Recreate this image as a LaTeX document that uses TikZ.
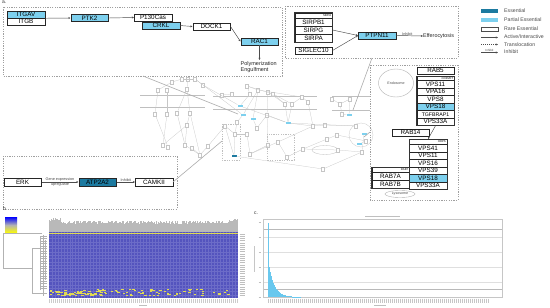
\documentclass[tikz,border=0pt]{standalone}
\usepackage{fontspec}
\setmainfont{Liberation Sans}
\usetikzlibrary{arrows.meta,shapes.geometric}
\definecolor{partialc}{RGB}{125,208,238}
\definecolor{essc}{RGB}{28,122,160}
\definecolor{hmblue}{RGB}{84,84,190}
\definecolor{hmgridc}{RGB}{108,108,200}
\definecolor{hmyel}{RGB}{225,220,80}
\definecolor{barc}{RGB}{105,200,238}
\newcommand\myfs[1]{\fontsize{#1}{#1}\selectfont}
\begin{document}
\begin{tikzpicture}[x=1pt,y=-1pt,
 gene/.style={draw=black!85, line width=0.5pt, minimum width=37.5pt, minimum height=7pt, inner sep=0pt, font=\myfs{6.3}, fill=white},
 gm/.style={gene, minimum height=7.5pt},
 partial/.style={fill=partialc},
 essen/.style={fill=essc},
 hdr/.style={draw=black!85, line width=0.4pt, minimum height=5pt, inner sep=1pt, text width=35.5pt, align=right, font=\myfs{2.8}, fill=white},
 grp/.style={draw=black!80, line width=0.8pt},
 zone/.style={draw=gray!75, line width=0.45pt, dash pattern=on 1.2pt off 1.2pt},
 conn/.style={draw=black!70, line width=0.45pt, -{Stealth[length=2.2pt,width=2pt]}},
 xlink/.style={draw=gray!65, line width=0.6pt},
 txt/.style={font=\myfs{5.5}, inner sep=0pt, text=black!85},
 tinyt/.style={font=\myfs{3.8}, inner sep=0.4pt, text=black!70},
 legt/.style={font=\myfs{5.2}, inner sep=0pt, text=black!70, anchor=west},
 lbl/.style={font=\myfs{5}, inner sep=0pt, text=black!80},
 mini/.style={draw=gray!45, fill=white, line width=0.25pt, minimum width=3pt, minimum height=4.5pt, inner sep=0pt},
 bmini/.style={fill=partialc, minimum width=5pt, minimum height=2.5pt, inner sep=0pt},
 mline/.style={draw=gray!45, line width=0.25pt},
 dend/.style={draw=gray!60, line width=0.35pt}]
\fill[white] (0,0) rectangle (550,308);
\useasboundingbox (0,0) rectangle (550,308);

%%%%%%%%%%%%%%%% middle network (faint) %%%%%%%%%%%%%%%%
\draw[gray!50, line width=0.4pt] (140,95) -- (205,95) (140,107) -- (205,107);
\draw[gray!50, line width=0.4pt] (213,96) -- (317,96) (213,109) -- (317,109);
\draw[gray!50, line width=0.4pt] (332,96) -- (370,96) (332,110) -- (370,110);
\draw[zone, draw=gray!50] (222,124) rectangle (240,160);
\draw[zone, draw=gray!50] (267,134) rectangle (294,160);
\draw[gray!50, line width=0.3pt] (325,150) ellipse [x radius=13pt, y radius=4.5pt];
\draw[gray!40, line width=0.3pt] (361,135) circle [radius=12pt];
\foreach \nn/\px/\py in {n1/182/79, n2/188/79, n3/195/79, n4/172/82, n5/203/85, n6/158/90, n7/167/90, n8/187/89, n9/155/114, n10/167/114, n11/177/113, n12/190/113, n13/187/125, n14/163/145, n15/168/147, n16/185/145, n17/200/155, n18/192/148, n19/208/146,
 m1/222/95, m2/232/94, m3/247/86, m4/250/94, m5/258/90, m6/268/92, m7/273/94, m8/285/104, m9/292/104, m10/302/97, m11/308/102, m12/225/126, m13/237/122, m14/235/134, m15/247/134, m16/257/128, m17/267/115, m18/278/142, m19/268/145, m20/250/154, m21/287/157, m22/303/149, m23/313/126, m24/325/125, m25/327/139, m26/337/135, m27/338/150, m28/323/169,
 r1/340/104, r2/342/114, r3/356/126, r4/366/141, r5/362/152, r6/350/99, r7/332/99}
 \node[mini] (\nn) at (\px,\py) {};
\foreach \nn/\px/\py in {b1/240/106, b2/243/115, b3/253/119, b4/288/123, b5/349/115, b6/364/134, b7/359/144}
 \node[bmini] (\nn) at (\px,\py) {};
\node[bmini, fill=essc] (b8) at (234,156) {};
\foreach \a/\b in {n4/n1, n1/n3, n2/n8, n3/n5, n4/n6, n6/n9, n7/n10, n8/n11, n8/n12, n5/b1, n3/b2, n11/n16, n12/n13, n13/n14, n13/n16, n10/n14, n12/n17, n16/n17, n17/n19, n9/n15, n18/n17, n19/m12,
 m1/m2, m3/m4, m3/m5, m3/m7, m4/b1, m5/b2, m5/b3, m6/m8, m7/m8, m7/m9, m10/m11, m10/m9, m5/m10, m6/m17, b2/m13, m13/m14, m12/m14, m14/m15, b3/m16, m16/m17, b4/m17, b4/m23, m23/m24, m24/r3, m17/m19, m19/m20, m20/m18, m18/m21, m21/m22, m22/m25, m25/m26, m26/r4, m27/r5, m22/m27, b8/m28, m28/r5, b4/r3, m8/b4, b1/b4, m15/m20, m18/m23, m11/m23, r7/r1, r6/r1, r1/r2, r2/b5, r6/b5, b6/r5, m9/b4, m12/b8, m14/b8, b7/r4}
 \draw[mline] (\a) -- (\b);

%%%%%%%%%%%%%%%% panel a: top-left %%%%%%%%%%%%%%%%
\node[lbl, anchor=north west] (la) at (2,0.5) {a.};
\draw[zone] (3,7) rectangle (282,76);
\node[gene,partial] (itgav) at (26,14.5) {ITGAV};
\node[gene] (itgb) at (26,21.5) {ITGB};
\node[gene,partial] (ptk2) at (89.5,18) {PTK2};
\node[gene] (p130) at (153,17.5) {P130Cas};
\node[gene,partial] (crkl) at (161,25.5) {CRKL};
\node[gene] (dock1) at (211.5,26.5) {DOCK1};
\node[gene,partial] (rac1) at (259.5,41.5) {RAC1};
\node[txt, anchor=north west, align=left, font=\myfs{5.5}] (poly) at (240.5,61.5) {Polymerization\\[0.6pt]Engulfment};
\coordinate (polyc) at (259.5,60);
\draw[conn] (itgav.south east) -- (ptk2.west);
\draw[conn] (ptk2.east) -- (p130.west);
\draw[conn] (crkl.east) -- (dock1.west);
\draw[conn] (dock1.east) -- (rac1.west);
\draw[conn] (rac1.south) -- (polyc);

%%%%%%%%%%%%%%%% panel a: SIRP %%%%%%%%%%%%%%%%
\draw[zone] (285,6) rectangle (458,58);
\node[hdr] (sirphdr) at (313.5,15.5) {SIRPA};
\node[gene, minimum height=8pt] (sirpb1) at (313.5,22) {SIRPB1};
\node[gene, minimum height=8pt] (sirpg) at (313.5,30) {SIRPG};
\node[gene, minimum height=8pt] (sirpa) at (313.5,38) {SIRPA};
\draw[grp] (sirphdr.north west) rectangle (sirpa.south east);
\node[gene] (siglec) at (313.5,50.5) {SIGLEC10};
\node[gene,partial] (ptpn11) at (377,35.5) {PTPN11};
\node[txt, anchor=west, font=\myfs{5.4}] (effero) at (423,36) {Efferocytosis};
\draw[conn] (sirpg.east) -- (ptpn11.west);
\draw[conn] (siglec.east) -- (ptpn11.west);
\draw[conn] (ptpn11.east) -- node[above, tinyt, pos=0.42]{Inhibit} (effero.west);

%%%%%%%%%%%%%%%% legend %%%%%%%%%%%%%%%%
\node[fill=essc, minimum width=17pt, minimum height=4pt, inner sep=0pt] (lgess) at (489.5,11) {};
\node[fill=partialc, minimum width=17pt, minimum height=4pt, inner sep=0pt] (lgpar) at (489.5,20) {};
\node[draw=black!70, line width=0.4pt, fill=white, minimum width=17pt, minimum height=4pt, inner sep=0pt] (lgrare) at (489.5,29) {};
\node[legt] (lgesst) at (504,11) {Essential};
\node[legt] (lgpart) at (504,20) {Partial Essential};
\node[legt] (lgraret) at (504,29) {Rare Essential};
\node[legt] (lgactt) at (504,37) {Active/Interactive};
\node[legt] (lgtrat) at (504,44.5) {Translocation};
\node[legt] (lginht) at (504,52) {Inhibit};
\coordinate (la1) at (481,37.5); \coordinate (la2) at (498,37.5);
\coordinate (lt1) at (481,44.5); \coordinate (lt2) at (498,44.5);
\coordinate (li1) at (481,52.5); \coordinate (li2) at (498,52.5);
\draw[conn] (la1) -- (la2);
\draw[conn, dash pattern=on 1pt off 1pt] (lt1) -- (lt2);
\draw[conn] (li1) -- node[above, tinyt, font=\myfs{3}]{Inhibit} (li2);

%%%%%%%%%%%%%%%% panel a: endosome / lysosome %%%%%%%%%%%%%%%%
\draw[zone] (370,65) rectangle (458,200);
\node[draw=gray!60, line width=0.4pt, ellipse, minimum width=35pt, minimum height=28pt, inner sep=0pt, font=\myfs{3.6}, text=black!70] (endo) at (396,83) {Endosome};
\node[draw=gray!60, line width=0.4pt, ellipse, minimum width=30pt, minimum height=7pt, inner sep=0pt, font=\myfs{3.6}, text=black!70] (lyso) at (400,194) {Lysosome};
\node[gene] (rab5) at (435.5,70.5) {RAB5};
\node[hdr] (corhdr) at (435.5,79) {CORVET};
\node[gm] (cvps11) at (435.5,84.25) {VPS11};
\node[gm] (cvpa16) at (435.5,91.75) {VPA16};
\node[gm] (cvps8) at (435.5,99.25) {VPS8};
\node[gm,partial] (cvps18) at (435.5,106.75) {VPS18};
\node[gm, font=\myfs{5.2}] (ctgf) at (435.5,114.25) {TGFBRAP1};
\node[gm] (cvps33a) at (435.5,121.75) {VPS33A};
\draw[grp] (corhdr.north west) rectangle (cvps33a.south east);
\node[gene] (rab14) at (410.5,132.5) {RAB14};
\node[hdr] (hopshdr) at (428,141.75) {HOPS};
\node[gm] (hvps41) at (428,148) {VPS41};
\node[gm] (hvps11) at (428,155.5) {VPS11};
\node[gm] (hvps16) at (428,163) {VPS16};
\node[gm] (hvps39) at (428,170.5) {VPS39};
\node[gm,partial] (hvps18) at (428,178) {VPS18};
\node[gm] (hvps33a) at (428,185.5) {VPS33A};
\draw[grp] (hopshdr.north west) rectangle (hvps33a.south east);
\draw[conn] (cvps33a.south) -- (hopshdr.north);
\node[hdr] (rab7hdr) at (390.5,170) {RAB7};
\node[gene, minimum height=8pt] (rab7a) at (390.5,176.5) {RAB7A};
\node[gene, minimum height=8pt] (rab7b) at (390.5,184.5) {RAB7B};
\draw[grp] (rab7hdr.north west) rectangle (rab7b.south east);

%%%%%%%%%%%%%%%% panel a: bottom-left %%%%%%%%%%%%%%%%
\draw[zone] (3,156) rectangle (177,209);
\node[gene, minimum height=8pt] (erk) at (22.5,182) {ERK};
\node[gene, essen, minimum height=8pt] (atp) at (97.5,182) {ATP2A2};
\node[gene, minimum height=8pt] (camk) at (154,182) {CAMKII};
\draw[conn] (erk) -- node[above, tinyt]{Gene expression} node[below, tinyt]{upregulate} (atp);
\draw[conn] (atp) -- node[above, tinyt]{Inhibit} (camk);

%%%%%%%%%%%%%%%% links into the network %%%%%%%%%%%%%%%%
\coordinate (ca1) at (143,76); \coordinate (ca2) at (238,114);
\coordinate (cs1) at (372,58); \coordinate (cs2) at (353,110);
\coordinate (cb2) at (222,141);
\coordinate (cr1) at (370,132); \coordinate (cr2) at (364,137);
\draw[xlink] (ca1) -- (ca2);
\draw[xlink] (cs1) -- (cs2);
\draw[xlink] (camk.east) -- (cb2);
\draw[xlink] (cr1) -- (cr2);

%%%%%%%%%%%%%%%% panel b: heatmap %%%%%%%%%%%%%%%%
\node[lbl, anchor=north west] (lb) at (3,207) {b.};
\shade[top color=blue, bottom color=yellow, middle color=gray!60] (5,217) rectangle (17,233);
\draw[dend] (42,233) -- (3,233) -- (3,268) -- (32,268);
\draw[dend] (40,248) -- (32,248) -- (32,293) -- (47,293);
\draw[dend] (40,236) -- (40,290);
\foreach \k in {0,...,21} \draw[dend, line width=0.25pt] (40,236+2.5*\k) -- (47,236+2.5*\k);
\draw[dend, line width=0.25pt] (43,235) -- (43,296) (45,240) -- (45,280);
\pgfmathsetseed{11}
\foreach \i in {0,...,188}{
 \pgfmathsetmacro\tp{220.5+3.5*rnd-3*(\i<12)-2*(\i>178)}
 \fill[gray!55] (49+\i,232) rectangle (50+\i,\tp);
}
\fill[hmblue] (49,232) rectangle (238,298);
\foreach \k in {1,...,63} \draw[hmgridc, line width=0.3pt] (49+2.95*\k,232) -- (49+2.95*\k,298);
\foreach \k in {1,...,19} \draw[hmgridc, line width=0.3pt] (49,232+3.3*\k) -- (238,232+3.3*\k);
\draw[hmyel, line width=0.6pt] (49,233) -- (238,233);
\foreach \i in {1,...,90}{
 \pgfmathsetmacro\sx{49+183*rnd}
 \pgfmathsetmacro\sy{289+6.5*rnd}
 \fill[hmyel] (\sx,\sy) rectangle (\sx+2.2,\sy+0.7);
}
\foreach \i in {1,...,40}{
 \pgfmathsetmacro\sx{55+45*rnd}
 \pgfmathsetmacro\sy{290+5*rnd}
 \fill[hmyel] (\sx,\sy) rectangle (\sx+3,\sy+0.8);
}
\foreach \k in {0,...,28} \draw[gray!50, line width=0.3pt] (239.5,234+2.2*\k) -- (245,234+2.2*\k);
\foreach \k in {0,...,94} \draw[gray!40, line width=0.3pt] (49.5+2*\k,298.5) -- (49.5+2*\k,303);
\draw[gray!50, line width=0.4pt] (139,305.5) -- (147,305.5);

%%%%%%%%%%%%%%%% panel c: bar chart %%%%%%%%%%%%%%%%
\node[lbl, anchor=north west] (lc) at (254,211.5) {c.};
\draw[gray!50, line width=0.4pt] (365,216.5) -- (400,216.5);
\foreach \yy in {237,252,267,282} \draw[gray!25, line width=0.3pt] (263,\yy) -- (502,\yy);
\draw[gray!55, line width=0.5pt] (263,229) -- (502,229);
\draw[gray!55, line width=0.5pt] (263,289) -- (502,289);
\draw[gray!45, line width=0.4pt] (263,219) rectangle (502,297);
\fill[barc] (267.5,297) rectangle (268.6,222.5);
\foreach \k in {1,...,32}{
 \pgfmathsetmacro\hh{30*exp(-(\k-1)/5.5)}
 \fill[barc] (267.5+\k,297) rectangle (268.5+\k,297-\hh);
}
\foreach \yy in {222,237,252,267,282,297} \draw[gray!50, line width=0.4pt] (258.5,\yy) -- (261,\yy);
\draw[gray!45, line width=0.4pt] (254.5,246) -- (254.5,272);
\foreach \k in {0,...,110} \draw[gray!45, line width=0.3pt] (268+2*\k,298.5) -- (268+2*\k,302.5);
\draw[gray!50, line width=0.4pt] (374,305.5) -- (386,305.5);
\end{tikzpicture}
\end{document}
